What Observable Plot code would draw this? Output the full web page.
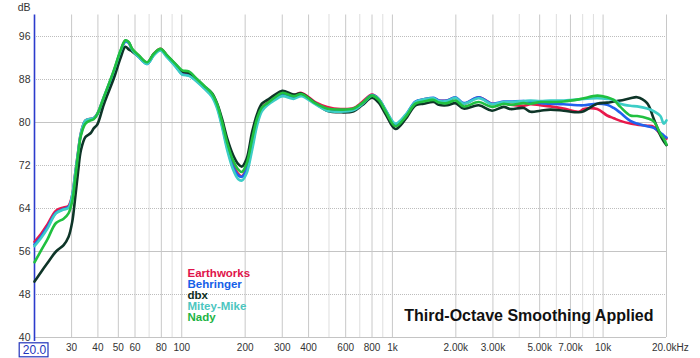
<!DOCTYPE html>
<html><head><meta charset="utf-8">
<script src="https://cdn.jsdelivr.net/npm/d3@7"></script>
<script src="https://cdn.jsdelivr.net/npm/@observablehq/plot@0.6"></script>
<style>
html,body{margin:0;padding:0;background:#fff;}
#chart{position:relative;width:700px;height:358px;}
</style></head><body><div id="chart"></div>
<script>
const freqs = [20, 21.5, 23, 25.3, 27.5, 29, 30.2, 31.2, 32.2, 33.2, 34.9, 36.9, 38.2, 39.7, 42.7, 47.6, 51.2, 54, 56, 58.2, 62.5, 68.5, 73.7, 79.3, 85.3, 93.4, 100.5, 108, 118, 128, 139, 147, 155, 165, 175, 185, 193, 203, 216, 228, 240, 255, 275, 300, 340, 370, 430, 490, 567, 655, 718, 800, 860, 930, 1034, 1153, 1286, 1408, 1570, 1659, 1818, 1992, 2180, 2570, 2972, 3374, 3632, 4200, 4520, 5040, 5620, 6500, 7660, 8100, 9380, 10450, 11230, 12080, 13470, 14510, 16180, 17390, 18710, 19400, 20000];

const earthworks = [57.8, 59.3, 61.0, 63.6, 64.2, 64.5, 66.5, 70.5, 74.5, 78.0,
  80.4, 80.7, 80.8, 81.6, 84.7, 89.5, 93.2, 95.2, 94.9, 93.6,
  92.4, 91.1, 92.8, 93.7, 92.4, 90.7, 89.3, 89.1, 87.9, 86.6,
  85.2, 83.2, 80.0, 75.5, 72.3, 70.5, 70.0, 71.6, 76.2, 80.3,
  82.7, 83.7, 84.7, 85.6, 85.1, 85.5, 83.8, 82.9, 82.5, 82.7,
  83.8, 85.2, 84.4, 82.2, 79.6, 81.2, 83.8, 84.3, 84.5, 84.1,
  84.1, 84.6, 83.5, 84.7, 83.5, 83.6, 83.3, 83.1, 83.4, 83.2,
  83.0, 82.6, 82.0, 82.5, 82.5, 81.3, 80.8, 80.3, 79.8, 79.6,
  79.4, 79.2, 77.8, 77.3, 77.0];

const behringer = [57.3, 58.8, 60.5, 63.2, 63.9, 64.3, 66.2, 70.2, 74.2, 77.8,
  80.3, 80.6, 80.8, 81.5, 84.5, 89.3, 93.1, 95.0, 94.8, 93.5,
  92.2, 90.9, 92.6, 93.5, 92.2, 90.5, 89.0, 88.8, 87.7, 86.4,
  85.0, 83.0, 79.7, 75.1, 71.8, 70.2, 69.9, 71.2, 75.7, 80.0,
  82.4, 83.4, 84.3, 85.1, 84.6, 85.1, 83.6, 82.4, 82.2, 82.4,
  83.5, 85.1, 84.4, 82.2, 79.6, 81.3, 83.9, 84.3, 84.6, 84.1,
  84.1, 84.7, 83.6, 84.7, 83.5, 83.9, 83.9, 84.0, 83.8, 83.6,
  83.5, 83.4, 83.2, 83.2, 83.5, 83.3, 82.7, 81.8, 80.3, 79.8,
  79.3, 79.0, 78.1, 77.6, 77.2];

const dbx = [50.4, 52.2, 53.8, 56.0, 57.2, 58.7, 61.5, 66.0, 70.8, 74.8,
  77.3, 78.0, 78.9, 79.6, 83.4, 88.2, 92.0, 94.1, 93.6, 93.2,
  92.3, 91.1, 92.7, 93.6, 92.4, 90.8, 89.5, 89.2, 88.0, 86.7,
  85.5, 83.6, 80.8, 76.8, 74.0, 72.3, 71.8, 73.2, 78.3, 81.6,
  83.5, 84.2, 85.1, 85.9, 85.2, 85.4, 83.6, 82.2, 81.9, 82.1,
  83.2, 84.6, 83.7, 81.5, 78.8, 80.6, 83.2, 83.5, 83.8, 83.3,
  83.2, 83.6, 82.6, 83.2, 82.2, 82.9, 82.5, 82.7, 82.0, 82.2,
  82.4, 82.2, 81.9, 82.1, 83.5, 83.7, 83.9, 84.1, 84.5, 84.7,
  83.6, 80.7, 77.6, 76.5, 75.8];

const miteyMike = [57.0, 58.5, 60.2, 63.1, 63.8, 64.1, 66.5, 70.5, 74.5, 78.0,
  80.4, 80.7, 80.8, 81.6, 84.8, 89.6, 93.3, 95.2, 94.9, 93.5,
  92.2, 90.9, 92.5, 93.4, 92.1, 90.4, 88.9, 88.7, 87.6, 86.3,
  84.8, 82.7, 79.3, 74.6, 71.3, 69.5, 69.2, 70.5, 75.0, 79.5,
  82.1, 83.2, 84.1, 84.9, 84.4, 84.9, 83.4, 82.2, 82.0, 82.3,
  83.4, 85.0, 84.4, 82.3, 79.8, 81.4, 83.8, 84.3, 84.5, 84.0,
  84.0, 84.6, 83.5, 84.5, 83.4, 83.8, 83.8, 84.0, 84.1, 84.0,
  84.1, 84.1, 84.3, 84.4, 84.5, 84.4, 84.2, 83.5, 83.1, 83.0,
  82.6, 82.1, 81.2, 79.8, 80.4];

const nady = [54.0, 56.2, 58.2, 61.3, 62.1, 63.1, 65.3, 69.5, 74.0, 77.5,
  79.8, 80.4, 80.6, 81.5, 84.7, 89.7, 93.4, 95.3, 95.0, 93.7,
  92.5, 91.2, 92.8, 93.7, 92.5, 90.9, 89.7, 89.5, 88.1, 86.8,
  85.4, 83.5, 80.3, 76.0, 73.0, 71.3, 70.8, 72.3, 77.0, 80.8,
  82.8, 83.6, 84.6, 85.5, 84.9, 85.3, 83.6, 82.6, 82.4, 82.6,
  83.6, 85.0, 84.2, 82.0, 79.3, 81.0, 83.5, 83.9, 84.2, 83.7,
  83.6, 84.1, 83.0, 83.8, 82.9, 83.5, 83.3, 83.6, 83.5, 83.8,
  83.8, 83.9, 84.3, 84.5, 85.0, 84.7, 84.2, 82.9, 81.3, 81.2,
  80.8, 80.2, 77.9, 77.0, 75.9];

const seriesNames = ["Earthworks", "Behringer", "dbx", "Mitey-Mike", "Nady"];
const seriesValues = [earthworks, behringer, dbx, miteyMike, nady];
const lineColors = ["#e8194b", "#1f62ee", "#0e3528", "#3ccdc6", "#20c040"];
const legendColors = ["#e0144a", "#1560e8", "#0c2e22", "#4cc6bf", "#22b444"];

const yTicks = [40, 48, 56, 64, 72, 80, 88, 96];
const ySolid = [40, 56, 80];
const xLabeled = [30, 40, 50, 60, 80, 100, 200, 300, 400, 600, 800, 1000, 2000, 3000, 5000, 7000, 10000];
const xLabels = ["30", "40", "50", "60", "80", "100", "200", "300", "400", "600", "800", "1k", "2.00k", "3.00k", "5.00k", "7.00k", "10k"];
const xMinor = [70, 90, 500, 700, 900, 4000, 6000, 8000, 9000];
const xEnd = [20000];
const xEndLabel = "20.0kHz";
const xStartLabel = "20.0";
const yUnit = "dB";
const note = "Third-Octave Smoothing Applied";

const tables = seriesNames.map((name, i) => freqs.map((f, j) => ({name, f, db: seriesValues[i][j]})));

const font = "'Liberation Sans', Arial, sans-serif";

const marks = [
  Plot.ruleY(yTicks.filter(d => !ySolid.includes(d)), {y: d => d, stroke: "#bdbdbd", strokeDasharray: "1,1"}),
  Plot.ruleY(ySolid, {y: d => d, stroke: "#c4c4c4"}),
  Plot.ruleX(xMinor, {x: d => d, stroke: "#bdbdbd", strokeDasharray: "1,1"}),
  Plot.ruleX(xLabeled.concat(xEnd), {x: d => d, stroke: "#c8c8c8"}),
  Plot.ruleX([20], {x: d => d, stroke: "#2b3bcc", strokeWidth: 1.6, insetBottom: -4}),
  ...tables.map((t, i) => Plot.line(t, {x: "f", y: "db", stroke: lineColors[i], strokeWidth: 2.6, curve: "catmull-rom", strokeLinejoin: "round", strokeLinecap: "round"})),
  Plot.text(yTicks, {y: d => d, frameAnchor: "left", dx: -4, textAnchor: "end", lineAnchor: "middle", fontSize: 10.5, fill: "#333"}),
  Plot.text([yUnit], {frameAnchor: "top-left", dx: -4, dy: -7.5, textAnchor: "end", lineAnchor: "middle", fontSize: 10.5, fill: "#333"}),
  Plot.text(xLabeled, {x: d => d, text: (d, i) => xLabels[i], frameAnchor: "bottom", dy: 10.5, lineAnchor: "middle", fontSize: 10, fill: "#333"}),
  Plot.text(xEnd, {x: d => d, text: () => xEndLabel, frameAnchor: "bottom", dy: 10.5, dx: -14.5, textAnchor: "start", lineAnchor: "middle", fontSize: 10, fill: "#333"}),
  Plot.text([xStartLabel], {frameAnchor: "bottom-left", dy: 12.8, textAnchor: "middle", lineAnchor: "middle", fontSize: 12, fill: "#2233bb"}),
  ...seriesNames.map((n, i) => Plot.text([n], {frameAnchor: "bottom-left", dx: 153, dy: -63.7 + i * 11, textAnchor: "start", lineAnchor: "middle", fontSize: 11.5, fontWeight: "bold", fill: legendColors[i]})),
  Plot.text([note], {frameAnchor: "bottom-right", dx: -13, dy: -22, textAnchor: "end", lineAnchor: "middle", fontSize: 16, fontWeight: "bold", fill: "#111"})
];

const chart = Plot.plot({
  width: 700,
  height: 358,
  marginLeft: 34,
  marginRight: 34,
  marginTop: 14.5,
  marginBottom: 21,
  style: {fontFamily: font, background: "#fff", overflow: "visible"},
  x: {type: "log", domain: [20, 20000], axis: null},
  y: {domain: [40, 100], axis: null},
  marks
});

// box round the start-frequency label
const xs = chart.scale("x"), ys = chart.scale("y");
const bx = xs.apply(20), by = ys.apply(40);
d3.select(chart).append("rect")
  .attr("x", bx - 14.8).attr("y", by + 5.8)
  .attr("width", 28.8).attr("height", 14)
  .attr("fill", "none").attr("stroke", "#2233bb").attr("stroke-width", 1.2);

document.getElementById("chart").appendChild(chart);
</script></body></html>
